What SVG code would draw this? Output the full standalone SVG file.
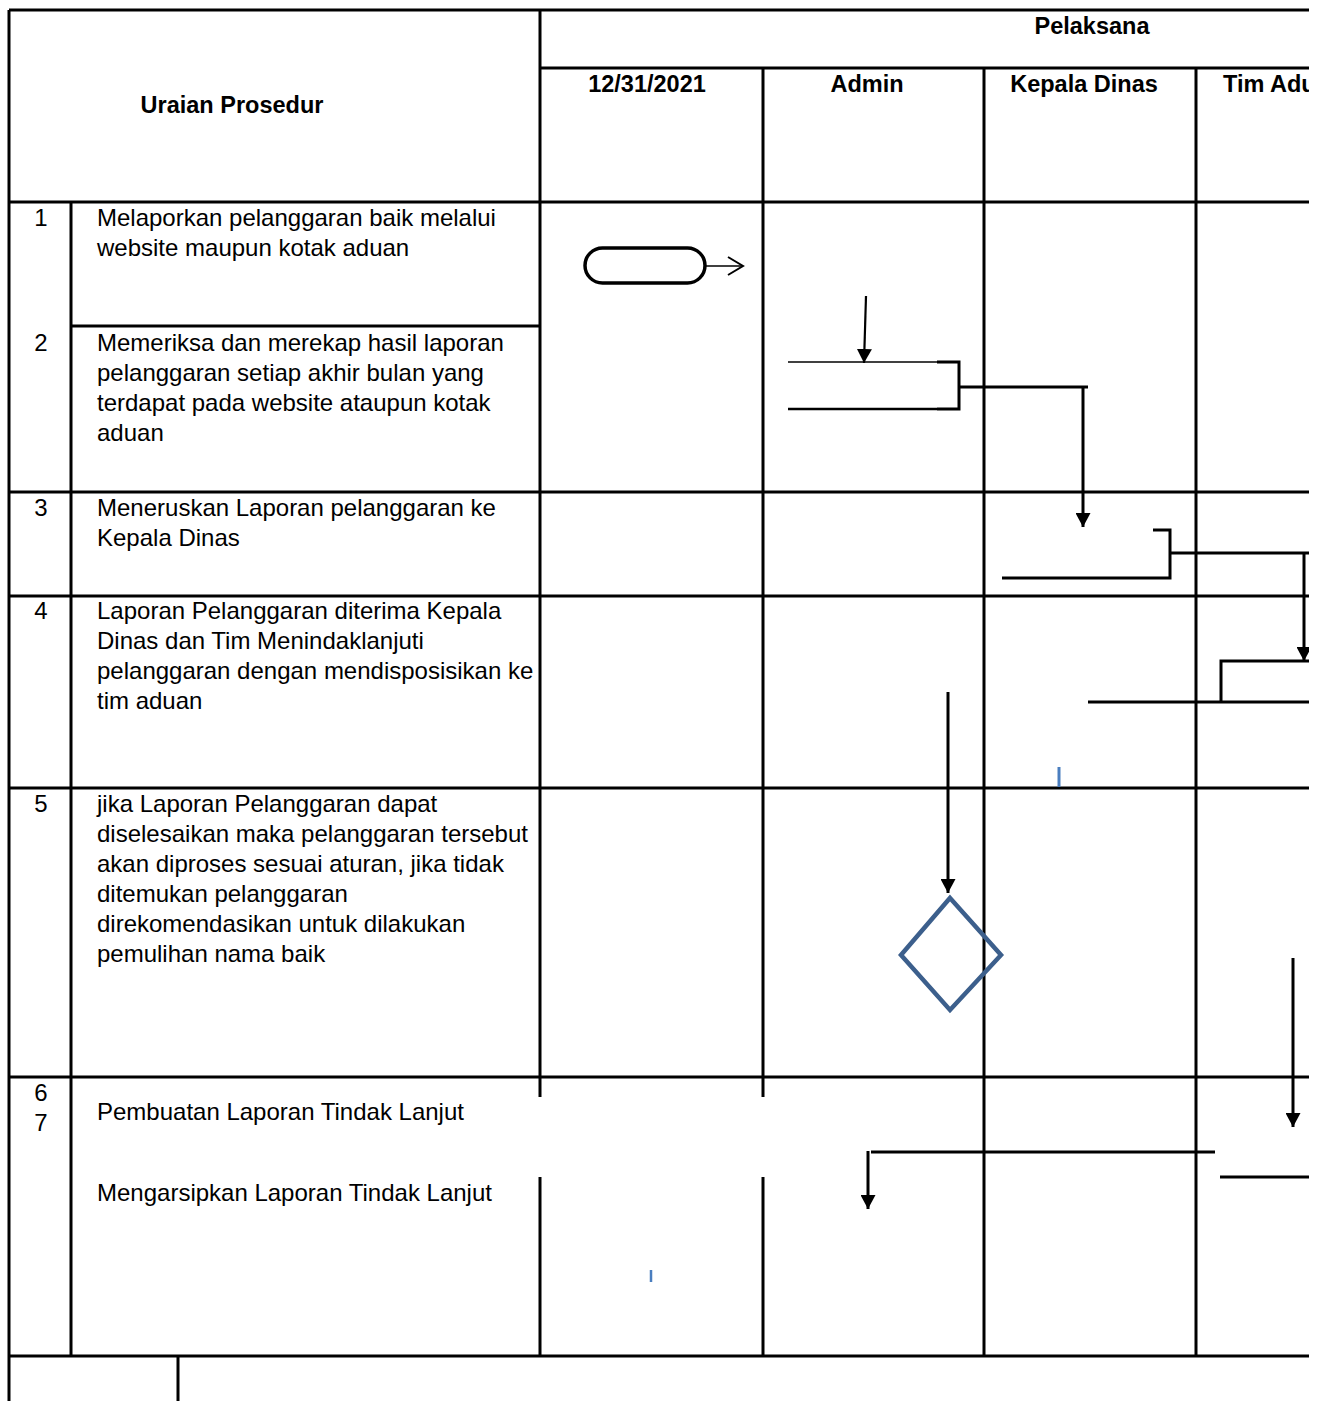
<svg xmlns="http://www.w3.org/2000/svg" width="1322" height="1401" viewBox="0 0 1322 1401">
<style>
.g{stroke:#000;stroke-width:3;fill:none}
.c{stroke:#000;stroke-width:3;fill:none}
.thin{stroke:#000;stroke-width:1.6;fill:none}
.t{font-family:"Liberation Sans",Arial,sans-serif;font-size:24px;fill:#000}
.b{font-family:"Liberation Sans",Arial,sans-serif;font-size:23.5px;font-weight:bold;fill:#000}
.blue{stroke:#4a7ebf;fill:none}
</style>
<defs>
<clipPath id="page"><rect x="0" y="0" width="1309" height="1401"/></clipPath>
<marker id="arr" markerUnits="userSpaceOnUse" markerWidth="14" markerHeight="15" refX="14" refY="7.5" orient="auto" viewBox="0 0 14 15">
<path d="M0,0 L14,7.5 L0,15 z" fill="#000"/>
</marker>
<marker id="open" markerUnits="userSpaceOnUse" markerWidth="18" markerHeight="22" refX="16" refY="11" orient="auto" viewBox="0 0 18 22">
<path d="M1,2 L16,11 L1,20" fill="none" stroke="#000" stroke-width="2"/>
</marker>
</defs>
<rect x="0" y="0" width="1322" height="1401" fill="#fff"/>
<g clip-path="url(#page)">
<g id="table">
<path class="g" d="M9,10 H1309 M9,10 V1401 M540,10 V1097 M540,1177 V1356 M540,68 H1309 M763,68 V1097 M763,1177 V1356 M984,68 V1356 M1196,68 V1356 M9,202 H1309 M71,202 V1356 M71,326 H540 M9,492 H1309 M9,596 H1309 M9,788 H1309 M9,1077 H1309 M9,1356 H1309 M178,1356 V1401"/>
</g>
<g id="labels">
<text class="b" x="232" y="113" text-anchor="middle">Uraian Prosedur</text>
<text class="b" x="1092" y="34" text-anchor="middle">Pelaksana</text>
<text class="b" x="647" y="92" text-anchor="middle">12/31/2021</text>
<text class="b" x="867" y="92" text-anchor="middle">Admin</text>
<text class="b" x="1084" y="92" text-anchor="middle">Kepala Dinas</text>
<text class="b" x="1223" y="92">Tim Adu</text>
<text class="t" x="41" y="226" text-anchor="middle">1</text>
<text class="t" x="41" y="351" text-anchor="middle">2</text>
<text class="t" x="41" y="516" text-anchor="middle">3</text>
<text class="t" x="41" y="619" text-anchor="middle">4</text>
<text class="t" x="41" y="812" text-anchor="middle">5</text>
<text class="t" x="41" y="1101" text-anchor="middle">6</text>
<text class="t" x="41" y="1131" text-anchor="middle">7</text>
<text class="t" x="97" y="226">Melaporkan pelanggaran baik melalui</text>
<text class="t" x="97" y="256">website maupun kotak aduan</text>
<text class="t" x="97" y="351">Memeriksa dan merekap hasil laporan</text>
<text class="t" x="97" y="381">pelanggaran setiap akhir bulan yang</text>
<text class="t" x="97" y="411">terdapat pada website ataupun kotak</text>
<text class="t" x="97" y="441">aduan</text>
<text class="t" x="97" y="516">Meneruskan Laporan pelanggaran ke</text>
<text class="t" x="97" y="546">Kepala Dinas</text>
<text class="t" x="97" y="619">Laporan Pelanggaran diterima Kepala</text>
<text class="t" x="97" y="649">Dinas dan Tim Menindaklanjuti</text>
<text class="t" x="97" y="679">pelanggaran dengan mendisposisikan ke</text>
<text class="t" x="97" y="709">tim aduan</text>
<text class="t" x="97" y="812">jika Laporan Pelanggaran dapat</text>
<text class="t" x="97" y="842">diselesaikan maka pelanggaran tersebut</text>
<text class="t" x="97" y="872">akan diproses sesuai aturan, jika tidak</text>
<text class="t" x="97" y="902">ditemukan pelanggaran</text>
<text class="t" x="97" y="932">direkomendasikan untuk dilakukan</text>
<text class="t" x="97" y="962">pemulihan nama baik</text>
<text class="t" x="97" y="1120">Pembuatan Laporan Tindak Lanjut</text>
<text class="t" x="97" y="1201">Mengarsipkan Laporan Tindak Lanjut</text>
</g>
<g id="start">
<rect x="585" y="248" width="120" height="35" rx="17.5" ry="17.5" fill="none" stroke="#000" stroke-width="3.5"/>
</g>
<g id="admin-box">
<path class="thin" d="M788,362 H937"/>
<path stroke="#000" stroke-width="2.5" fill="none" d="M788,409 H937"/>
<path class="c" d="M937,362 H959 V409 H937"/>
</g>
<g id="kepala-box">
<path class="c" d="M1153,530 H1170 V578 H1002"/>
</g>
<g id="tim-box">
<path class="c" d="M1309,661 H1221 V702 M1088,702 H1309"/>
</g>
<g id="decision">
<path d="M950,898 L1001,955 L950,1010 L901,955 Z" fill="none" stroke="#3c5f8c" stroke-width="4.5" stroke-linejoin="miter"/>
</g>
<g id="connectors">
<path class="thin" d="M705,266 H743" marker-end="url(#open)"/>
<path stroke="#000" stroke-width="2.2" fill="none" d="M866,296 L864,363" marker-end="url(#arr)"/>
<path class="c" d="M959,387 H1088"/>
<path class="c" d="M1083,387 V527" marker-end="url(#arr)"/>
<path class="c" d="M1170,553 H1309"/>
<path class="c" d="M1304,553 V661" marker-end="url(#arr)"/>
<path class="c" d="M948,692 V893" marker-end="url(#arr)"/>
<path class="c" d="M1293,958 V1127" marker-end="url(#arr)"/>
<path class="c" d="M871,1152 H1215"/>
<path class="c" d="M868,1151 V1209" marker-end="url(#arr)"/>
<path class="c" d="M1220,1177 H1309"/>
<path class="blue" stroke-width="3" d="M1059,767 V787"/>
<path class="blue" stroke-width="2.5" d="M651,1270 V1282"/>
</g>
</g>
</svg>
